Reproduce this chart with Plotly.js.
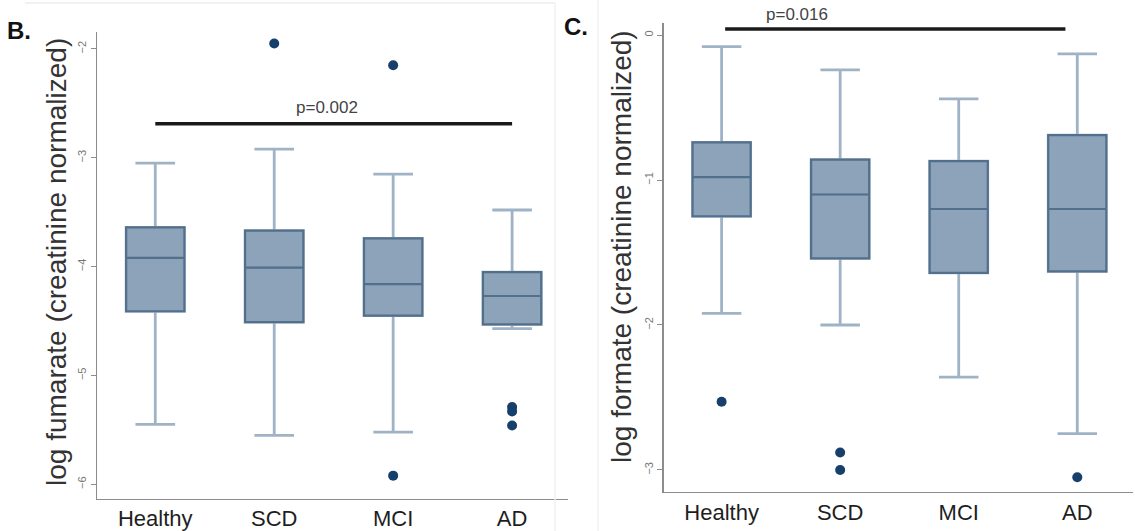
<!DOCTYPE html>
<html>
<head>
<meta charset="utf-8">
<script src="https://cdn.plot.ly/plotly-3.0.1.min.js"></script>
<style>html,body{margin:0;padding:0;background:#fff;}#chart{width:1135px;height:531px;}</style>
</head>
<body>
<div id="chart"></div>
<script>
// ---- data ----
const categories = ['Healthy', 'SCD', 'MCI', 'AD'];

// Panel B: log fumarate (creatinine normalized)
const fumLower  = [-5.45, -5.55, -5.52, -4.57];
const fumQ1     = [-4.41, -4.51, -4.45, -4.53];
const fumMedian = [-3.92, -4.01, -4.16, -4.27];
const fumQ3     = [-3.64, -3.67, -3.74, -4.05];
const fumUpper  = [-3.05, -2.92, -3.15, -3.48];
const fumOutGroup = ['SCD', 'MCI', 'MCI', 'AD', 'AD', 'AD'];
const fumOutValue = [-1.95, -2.15, -5.92, -5.29, -5.33, -5.46];
const fumTicks = [-6, -5, -4, -3, -2];
const fumP = 'p=0.002';

// Panel C: log formate (creatinine normalized)
const forLower  = [-1.92, -2.00, -2.36, -2.75];
const forQ1     = [-1.25, -1.54, -1.64, -1.63];
const forMedian = [-0.98, -1.10, -1.20, -1.20];
const forQ3     = [-0.74, -0.86, -0.87, -0.69];
const forUpper  = [-0.08, -0.24, -0.44, -0.13];
const forOutGroup = ['Healthy', 'SCD', 'SCD', 'AD'];
const forOutValue = [-2.53, -2.88, -3.00, -3.05];
const forTicks = [-3, -2, -1, 0];
const forP = 'p=0.016';

// ---- styles ----
const W = 1135, H = 531;
const FILL = '#8da3b9';
const EDGE = '#526f8c';
const WHISK = '#a0b3c6';
const DOT = '#163f6b';
const AX = '#8c8c8c';
const FONT = 'Liberation Sans, Arial, sans-serif';

function boxTraces(xa, ya, lo, q1, med, q3, hi) {
  const common = {type: 'box', x: categories, xaxis: xa, yaxis: ya, width: 0.49,
    fillcolor: FILL, boxpoints: false, hoverinfo: 'skip', showlegend: false};
  return [
    Object.assign({}, common, {q1: q1, median: med, q3: q3, lowerfence: lo, upperfence: hi,
      whiskerwidth: 0.68, line: {color: WHISK, width: 2.8}}),
    Object.assign({}, common, {q1: q1, median: med, q3: q3, lowerfence: q1, upperfence: q3,
      whiskerwidth: 0, line: {color: EDGE, width: 2.2}})
  ];
}
function outTrace(xa, ya, g, v) {
  return {type: 'scatter', mode: 'markers', x: g, y: v, xaxis: xa, yaxis: ya,
    marker: {color: DOT, size: 10}, hoverinfo: 'skip', showlegend: false, cliponaxis: false};
}

const data = []
  .concat(boxTraces('x', 'y', fumLower, fumQ1, fumMedian, fumQ3, fumUpper))
  .concat([outTrace('x', 'y', fumOutGroup, fumOutValue)])
  .concat(boxTraces('x2', 'y2', forLower, forQ1, forMedian, forQ3, forUpper))
  .concat([outTrace('x2', 'y2', forOutGroup, forOutValue)]);

function xAxis(dom, anchor) {
  return {domain: dom, anchor: anchor, type: 'category', categoryorder: 'array', categoryarray: categories,
    range: [-0.49, 3.47], showline: true, linecolor: AX, linewidth: 1.5, ticks: '',
    showgrid: false, zeroline: false, fixedrange: true,
    tickfont: {family: FONT, size: 22, color: '#1e1e1e'}};
}
function yAxis(dom, anchor, rng, tv) {
  return {domain: dom, anchor: anchor, range: rng, tickvals: tv, showline: true, linecolor: AX, linewidth: 1.5,
    ticks: 'outside', ticklen: 5, tickcolor: AX, tickwidth: 1, tickangle: -90,
    showgrid: false, zeroline: false, fixedrange: true,
    tickfont: {family: FONT, size: 11, color: '#777'}};
}

const layout = {
  width: W, height: H,
  margin: {l: 0, r: 0, t: 0, b: 0},
  paper_bgcolor: '#fff', plot_bgcolor: '#fff',
  boxmode: 'overlay',
  xaxis: xAxis([97 / W, 568 / W], 'y'),
  yaxis: yAxis([1 - 498.5 / H, 1 - 32 / H], 'x', [-6.13, -1.845], fumTicks),
  xaxis2: xAxis([663.5 / W, 1133 / W], 'y2'),
  yaxis2: yAxis([1 - 491.7 / H, 1 - 23 / H], 'x2', [-3.15, 0.083], forTicks),
  shapes: [
    {type: 'line', xref: 'x', yref: 'y', x0: 0, x1: 3, y0: -2.687, y1: -2.687, line: {color: '#1a1a1a', width: 3.5}},
    {type: 'line', xref: 'x2', yref: 'y2', x0: 0.03, x1: 2.9, y0: 0.041, y1: 0.041, line: {color: '#1a1a1a', width: 3.5}},
    {type: 'line', xref: 'paper', yref: 'paper', x0: 25 / W, x1: 555 / W, y0: 1 - 3 / H, y1: 1 - 3 / H, line: {color: '#ececec', width: 1.5}},
    {type: 'line', xref: 'paper', yref: 'paper', x0: 555 / W, x1: 555 / W, y0: 0, y1: 1 - 3 / H, line: {color: '#f0f0f0', width: 1.5}},
    {type: 'line', xref: 'paper', yref: 'paper', x0: 598 / W, x1: 598 / W, y0: 0, y1: 1, line: {color: '#f2f2f2', width: 1.5}}
  ],
  annotations: [
    {xref: 'x', yref: 'y', x: 1.447, y: -2.537, xanchor: 'center', yanchor: 'middle', text: fumP, showarrow: false,
      font: {family: FONT, size: 17, color: '#444'}},
    {xref: 'x2', yref: 'paper', x: 0.64, y: 1 - 15 / H, xanchor: 'center', yanchor: 'middle', text: forP, showarrow: false,
      font: {family: FONT, size: 17, color: '#444'}},
    {xref: 'paper', yref: 'paper', x: 56 / W, y: 1 - 262 / H, xanchor: 'center', yanchor: 'middle', textangle: -90, showarrow: false,
      text: 'log fumarate (creatinine normalized)', font: {family: FONT, size: 28, color: '#333'}},
    {xref: 'paper', yref: 'paper', x: 622 / W, y: 1 - 247 / H, xanchor: 'center', yanchor: 'middle', textangle: -90, showarrow: false,
      text: 'log formate (creatinine normalized)', font: {family: FONT, size: 28, color: '#333'}},
    {xref: 'paper', yref: 'paper', x: 19 / W, y: 1 - 30 / H, xanchor: 'center', yanchor: 'middle', showarrow: false,
      text: '<b>B.</b>', font: {family: FONT, size: 24, color: '#111'}},
    {xref: 'paper', yref: 'paper', x: 576 / W, y: 1 - 27 / H, xanchor: 'center', yanchor: 'middle', showarrow: false,
      text: '<b>C.</b>', font: {family: FONT, size: 24, color: '#111'}}
  ]
};

Plotly.newPlot('chart', data, layout, {staticPlot: true, displayModeBar: false});
</script>
</body>
</html>
